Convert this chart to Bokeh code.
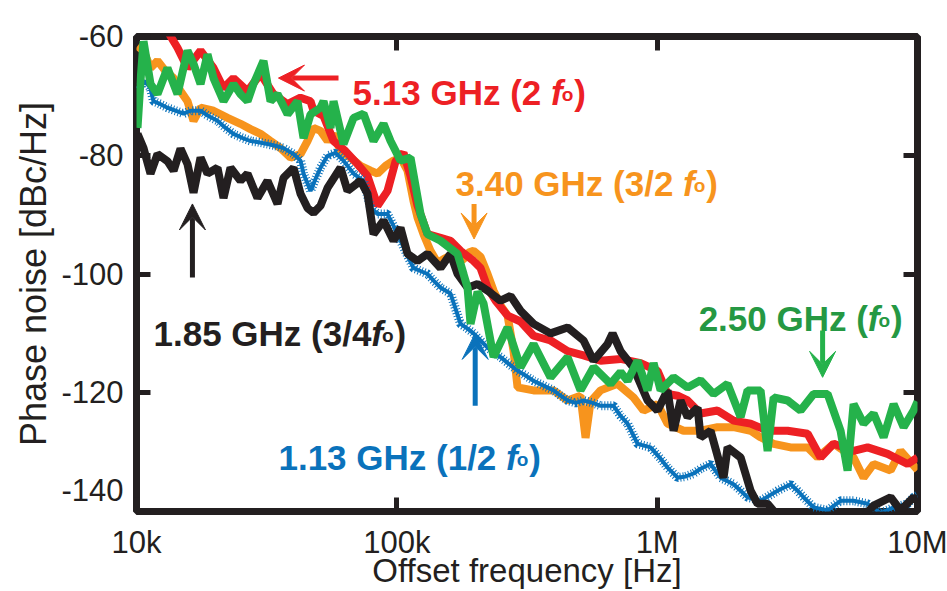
from bokeh.plotting import figure
from bokeh.models import FixedTicker, LogAxis, LinearAxis, Label, Arrow, VeeHead, Range1d
from bokeh.embed import file_html
from bokeh.resources import INLINE

# ---------------- data (offset frequency in kHz, phase noise in dBc/Hz) ----------------
black_khz = [10.09, 10.64, 11.32, 12.04, 13.15, 13.88, 14.76, 15.70, 16.56, 17.62, 18.74, 20.47, 21.59, 22.97,
             25.09, 26.70, 29.16, 31.86, 34.81, 36.71, 40.11, 42.66, 45.39, 47.86, 50.92, 54.18, 60.76, 64.65,
             72.53, 77.16, 81.38, 88.90, 97.1, 103.3, 109.9, 120.1, 131.2, 147.2, 160.8, 171.1, 186.9, 204.2,
             223.1, 250.3, 273.5, 298.7, 335.1, 389.5, 452.7, 521.4, 569.7, 644.8, 674.1, 723.5, 811.6, 918.7,
             1003.5, 1096, 1156, 1230, 1309, 1430, 1468, 1604, 1799, 1864, 2092, 2285, 2431, 2656, 2901, 3556,
             4638, 6045, 6783, 7883, 8611, 9660, 10000]
black_db = [-76.4, -78.8, -83.1, -79.8, -81.0, -82.6, -78.9, -81.5, -86.3, -80.4, -83.1, -82.1, -87.2, -82.1,
            -84.3, -83.1, -87.2, -84.3, -88.2, -83.8, -82.1, -86.5, -88.9, -89.7, -88.5, -85.5, -82.1, -86.0,
            -84.3, -86.5, -93.3, -91.0, -94.4, -92.2, -96.6, -97.8, -96.6, -99.0, -96.6, -100.0, -102.3, -101.7,
            -102.8, -104.5, -103.7, -106.2, -108.4, -110.0, -109.0, -111.2, -114.6, -111.8, -110.0, -113.0, -115.8, -121.3,
            -123.0, -119.6, -126.4, -121.3, -124.1, -122.5, -127.5, -126.4, -134.3, -129.2, -130.9, -136.5, -138.7, -138.7, -140.7, -142.3,
            -142.3, -141.5, -139.0, -137.6, -139.8, -137.6, -138.2]

blue_khz = [10.09, 10.83, 11.32, 11.62, 12.36, 13.15, 14.12, 15.15, 16.12, 17.62, 18.91, 20.47, 21.98, 23.58,
            25.54, 27.41, 29.43, 31.86, 34.20, 36.71, 40.11, 42.66, 43.82, 46.61, 48.71, 50.92, 54.18, 58.15,
            62.40, 68.19, 74.48, 79.25, 84.31, 92.1, 97.1, 103.3, 109.9, 115.9, 123.3, 131.2, 138.4, 147.2,
            160.8, 175.7, 186.9, 197.1, 209.7, 223.1, 235.3, 250.3, 268.6, 290.9, 312.2, 335.1, 366.1, 399.9,
            425.6, 452.7, 485.9, 521.4, 564.6, 606.1, 680.0, 723.5, 769.7, 840.9, 943.4, 1030.6, 1096, 1198,
            1286, 1380, 1468, 1604, 1752, 1966, 2092, 2225, 2496, 2727, 2901, 3255, 3462, 3651, 3989, 4514,
            5064, 5682, 6432, 7214, 8094, 9162, 9660, 10000]
blue_db = [-68.8, -67.5, -68.8, -70.9, -71.4, -72.0, -72.5, -73.0, -72.5, -72.5, -73.4, -74.2, -75.4, -76.4,
           -77.1, -77.6, -77.8, -78.1, -78.4, -78.8, -79.8, -80.9, -83.1, -86.0, -84.0, -82.1, -80.1, -79.6,
           -80.9, -83.1, -84.3, -88.8, -89.9, -89.9, -91.9, -94.4, -96.9, -99.0, -99.5, -100.0, -101.1, -102.3,
           -103.3, -108.4, -109.2, -110.0, -111.2, -112.4, -113.2, -114.0, -115.1, -116.3, -117.1, -118.0, -118.8, -119.6,
           -120.5, -121.3, -121.7, -121.3, -121.7, -122.2, -122.2, -123.9, -125.2, -128.6, -129.2, -131.1, -132.6, -134.3,
           -134.1, -133.6, -132.8, -132.0, -134.3, -135.4, -136.5, -137.6, -138.2, -137.2, -136.5, -135.4, -136.5, -137.6, -139.3, -139.8,
           -138.2, -138.2, -138.7, -140.3, -139.3, -138.7, -137.6, -137.3]

orange_khz = [10.09, 10.64, 11.32, 12.04, 12.92, 13.88, 14.76, 15.70, 16.56, 17.62, 19.76, 22.37, 25.09, 27.41,
              29.95, 32.72, 35.75, 39.06, 42.66, 45.39, 47.86, 50.92, 54.18, 57.13, 60.76, 66.39, 72.53, 79.25,
              84.31, 90.5, 97.1, 103.3, 109.9, 115.9, 120.1, 126.6, 134.7, 143.3, 151.2, 160.8, 171.1, 180.4,
              188.6, 197.1, 209.7, 223.1, 235.3, 250.3, 266.3, 280.8, 290.9, 335.1, 399.9, 452.7, 507.7, 530.8,
              554.7, 606.1, 704.6, 811.6, 886.7, 1003.5, 1096, 1263, 1468, 1706, 1966, 2285, 2496, 2801, 3255,
              3784, 4133, 4761, 5682, 6207, 6783, 7883, 8611, 10000]
orange_db = [-61.6, -62.4, -65.3, -64.1, -65.8, -67.0, -69.2, -70.9, -74.2, -72.0, -72.5, -73.7, -74.7, -75.6,
             -76.4, -77.6, -78.8, -80.4, -79.8, -77.6, -75.4, -75.9, -77.6, -76.4, -79.3, -80.4, -81.8, -82.6,
             -83.1, -81.8, -80.9, -80.4, -82.6, -87.7, -90.5, -93.3, -96.1, -98.1, -97.5, -96.9, -98.1, -97.5,
             -96.4, -96.1, -97.1, -100.0, -102.8, -105.3, -107.0, -113.0, -119.1, -119.6, -119.6, -121.3, -120.5, -127.6,
             -121.5, -119.6, -118.5, -120.8, -123.0, -121.9, -125.2, -126.4, -126.4, -125.8, -125.8, -126.4, -127.5, -128.6, -129.2,
             -129.2, -130.9, -128.6, -130.9, -134.3, -132.0, -133.1, -129.8, -133.0]

red_khz = [10.09, 12.92, 13.88, 14.37, 15.70, 17.62, 19.76, 21.59, 23.58, 26.70, 29.95, 33.60, 38.04, 42.66,
           46.61, 47.86, 52.29, 57.13, 63.5, 70.63, 77.16, 84.31, 92.1, 98.9, 106.1, 112.9, 120.1, 131.2,
           147.2, 160.8, 175.7, 197.1, 209.7, 223.1, 239.5, 266.3, 298.7, 335.1, 389.5, 452.7, 521.4, 606.1,
           723.5, 863.6, 1003.5, 1096, 1198, 1309, 1468, 1706, 1966, 2285, 2656, 3170, 3784, 4243, 4761, 5682,
           6432, 7677, 9162, 10000]
red_db = [-58.5, -58.5, -60.8, -61.9, -65.3, -62.4, -65.3, -68.7, -67.0, -69.2, -66.3, -69.7, -71.4, -70.3,
          -70.9, -72.5, -73.4, -77.6, -79.3, -81.5, -83.5, -88.5, -86.0, -81.0, -79.6, -83.5, -88.5, -93.3,
          -93.9, -94.4, -96.1, -97.8, -99.0, -102.3, -104.5, -107.0, -108.0, -110.4, -111.2, -113.0, -113.7, -114.6,
          -114.3, -115.0, -116.3, -120.2, -120.5, -121.3, -123.5, -123.0, -124.7, -125.2, -126.4, -126.4, -126.9, -130.9, -128.6, -129.8,
          -129.2, -130.3, -132.0, -130.9]

green_khz = [10.09, 10.36, 10.64, 11.32, 12.04, 13.15, 14.37, 15.70, 16.56, 17.62, 18.74, 19.76, 21.59, 23.58,
             25.09, 26.70, 28.15, 30.75, 32.72, 34.81, 38.04, 41.55, 43.82, 46.61, 50.92, 52.29, 55.64, 57.13,
             62.40, 68.19, 74.48, 81.38, 88.90, 94.6, 103.3, 112.9, 123.3, 131.2, 147.2, 171.1, 180.4, 186.9,
             191.9, 204.2, 215.4, 235.3, 266.3, 298.7, 335.1, 389.5, 452.7, 507.7, 569.7, 662.2, 723.5, 769.7,
             840.9, 918.7, 968.8, 1030.6, 1156, 1309, 1468, 1647, 1864, 2092, 2225, 2496, 2656, 2801, 3170,
             3556, 3989, 4514, 5064, 5388, 5682, 6207, 6783, 7409, 8094, 8844, 9660, 10000]
green_db = [-75.4, -67.5, -60.8, -68.0, -69.7, -65.3, -69.7, -62.4, -64.6, -68.0, -63.0, -67.0, -70.9, -68.0,
            -69.7, -70.9, -68.0, -64.1, -70.9, -69.7, -73.1, -70.9, -77.1, -73.1, -72.0, -70.9, -75.4, -70.9,
            -78.1, -73.7, -73.0, -77.6, -74.7, -77.6, -80.9, -80.4, -89.9, -93.3, -94.4, -96.6, -100.0, -102.3,
            -108.4, -103.0, -105.0, -114.0, -109.0, -115.7, -111.8, -117.4, -114.0, -119.6, -115.7, -118.5, -116.5, -118.0,
            -114.6, -119.6, -115.0, -119.6, -117.4, -119.1, -117.9, -120.2, -118.5, -124.1, -119.6, -119.6, -129.8, -120.8, -121.3,
            -123.0, -120.2, -120.2, -126.4, -133.1, -121.9, -125.2, -123.5, -127.5, -121.9, -125.8, -123.0, -121.5]

x_ticks = [1e4, 1e5, 1e6, 1e7]
x_tick_labels = ["10k", "100k", "1M", "10M"]
y_ticks = [-60, -80, -100, -120, -140]
y_tick_labels = ["-60", "-80", "-100", "-120", "-140\n\u00a0"]

# ---------------- styling ----------------
FONT = "Liberation Sans"
INK = "#231f20"
C_BLACK = "#231f20"
C_BLUE = "#0a72bb"
C_ORANGE = "#f7941d"
C_RED = "#ed2024"
C_GREEN = "#25b24b"
T_GREEN = "#259843"

p = figure(width=947, height=591, x_axis_type="log",
           x_range=Range1d(1e4, 1e7), y_range=Range1d(-140, -60),
           output_backend="svg", toolbar_location=None,
           min_border_left=136, min_border_right=30, min_border_top=36, min_border_bottom=80)
p.background_fill_color = "white"
p.border_fill_color = "white"
p.outline_line_color = INK
p.outline_line_width = 7
p.grid.visible = False


def style_axis(ax, show_labels):
    ax.axis_line_color = None
    ax.major_tick_in = 14
    ax.major_tick_out = 0
    ax.major_tick_line_width = 5
    ax.major_tick_line_color = INK
    ax.minor_tick_line_color = None
    ax.major_label_text_font = FONT
    ax.major_label_text_color = INK
    if show_labels:
        ax.major_label_text_font_size = "31px"
        ax.major_label_standoff = 13
    else:
        ax.major_label_text_font_size = "2px"
        ax.major_label_text_alpha = 0
        ax.major_label_standoff = 0


xa = p.xaxis[0]
xa.ticker = FixedTicker(ticks=x_ticks, minor_ticks=[])
xa.major_label_overrides = {int(t): s for t, s in zip(x_ticks, x_tick_labels)}
style_axis(xa, True)
xa.axis_label = "Offset frequency [Hz]"
xa.axis_label_text_font = FONT
xa.axis_label_text_font_size = "33px"
xa.axis_label_text_font_style = "normal"
xa.axis_label_text_color = INK
xa.axis_label_standoff = -11

ya = p.yaxis[0]
ya.ticker = FixedTicker(ticks=y_ticks, minor_ticks=[])
ya.major_label_overrides = {t: s for t, s in zip(y_ticks, y_tick_labels)}
style_axis(ya, True)
ya.axis_label = "Phase noise [dBc/Hz]"
ya.axis_label_text_font = FONT
ya.axis_label_text_font_size = "36px"
ya.axis_label_text_font_style = "normal"
ya.axis_label_text_color = INK
ya.axis_label_standoff = 4

top = LogAxis(ticker=FixedTicker(ticks=x_ticks[1:3], minor_ticks=[]))
style_axis(top, False)
p.add_layout(top, "above")
right = LinearAxis(ticker=FixedTicker(ticks=y_ticks[1:4], minor_ticks=[]))
style_axis(right, False)
p.add_layout(right, "right")

# ---------------- curves ----------------
def hz(lst):
    return [v * 1e3 for v in lst]

p.line(hz(orange_khz), orange_db, line_color=C_ORANGE, line_width=8)
p.line(hz(red_khz), red_db, line_color=C_RED, line_width=8)
p.line(hz(blue_khz), blue_db, line_color=C_BLUE, line_width=4)
p.line(hz(blue_khz), blue_db, line_color=C_BLUE, line_width=9, line_dash="1 2")
p.line(hz(black_khz), black_db, line_color=C_BLACK, line_width=8)
p.line(hz(green_khz), green_db, line_color=C_GREEN, line_width=8)

# ---------------- annotations ----------------
BOLD_W = {' ': 278, '(': 333, ')': 333, '.': 278, '/': 278, 'G': 778, 'H': 722, 'z': 500, 'f': 333, 'o': 611}
for d in "0123456789":
    BOLD_W[d] = 556


def tw(s, size):
    return sum(BOLD_W[c] for c in s) * size / 1000.0


def rich(x, y, pre, color, size=35):
    common = dict(text_font=FONT, text_color=color, text_baseline="alphabetic", text_align="left")
    p.add_layout(Label(x=x, y=y, text=pre, text_font_size=f"{size}px", text_font_style="bold", **common))
    off = tw(pre, size)
    p.add_layout(Label(x=x, y=y, x_offset=off, text="f", text_font_size=f"{size}px",
                       text_font_style="bold italic", **common))
    off += BOLD_W['f'] * size / 1000.0 - 1
    osz = round(size * 0.55)
    p.add_layout(Label(x=x, y=y - 0.35, x_offset=off, text="o", text_font_size=f"{osz}px",
                       text_font_style="bold", **common))
    off += BOLD_W['o'] * osz / 1000.0 + 1
    p.add_layout(Label(x=x, y=y, x_offset=off, text=")", text_font_size=f"{size}px",
                       text_font_style="bold", **common))


def arrow(x0, y0, x1, y1, color):
    p.add_layout(Arrow(end=VeeHead(size=26, fill_color=color, line_color=color, line_width=1),
                       x_start=x0, y_start=y0, x_end=x1, y_end=y1,
                       line_color=color, line_width=5))


rich(67.6e3, -69.5, "5.13 GHz (2 ", C_RED)
arrow(59.7e3, -67.0, 35.1e3, -67.0, C_RED)

rich(168e3, -84.8, "3.40 GHz (3/2 ", C_ORANGE)
arrow(198e3, -88.2, 198e3, -94.1, C_ORANGE)

rich(11.62e3, -110.05, "1.85 GHz (3/4", C_BLACK)
arrow(16.4e3, -100.6, 16.4e3, -88.2, C_BLACK)

rich(35.1e3, -130.9, "1.13 GHz (1/2 ", C_BLUE)
arrow(200e3, -122.2, 200e3, -110.0, C_BLUE)

rich(1443e3, -107.5, "2.50 GHz (", T_GREEN)
arrow(4320e3, -109.5, 4320e3, -117.4, C_GREEN)

open("out.html", "w").write(file_html(p, INLINE))
